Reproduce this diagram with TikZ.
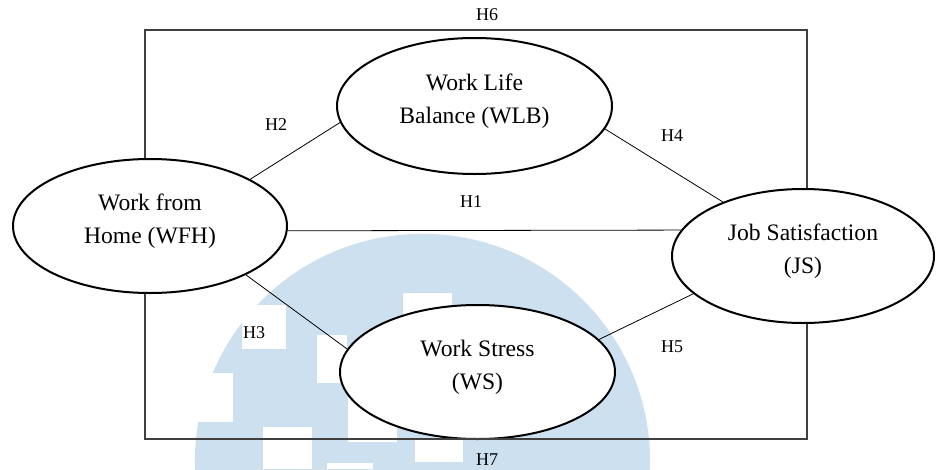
\documentclass[tikz,border=0pt]{standalone}
\usepackage{fontspec}
\setmainfont{Liberation Serif}
\usetikzlibrary{shapes.geometric}
\definecolor{logoblue}{RGB}{205,224,239}
\definecolor{framegray}{RGB}{64,64,64}
\tikzset{
  var/.style={ellipse, draw, line width=1.5pt, fill=white, inner sep=0pt,
    align=center, font=\fontsize{17.7}{24.7}\selectfont, text depth=11pt},
  hyp/.style={font=\fontsize{13.5}{16}\selectfont, inner sep=0pt},
  link/.style={line width=0.6pt},
  frame/.style={draw=framegray, line width=1pt},
}
\begin{document}
\begin{tikzpicture}[x=0.75pt,y=0.75pt]
\useasboundingbox (0,0) rectangle (938,469);
\fill[white] (0,0) rectangle (938,469);
% logo in the background
\begin{scope}
\clip (0,0) rectangle (938,469);
\fill[logoblue] (422.5,7.6) circle (227.6);
\end{scope}
\fill[white] (242,120) rectangle (286,164);
\fill[white] (180,47) rectangle (233,96);
\fill[white] (317,86) rectangle (347,134);
\fill[white] (403,139) rectangle (452,176);
\fill[white] (348,27) rectangle (397,86);
\fill[white] (263,0) rectangle (312,42);
\fill[white] (415,7) rectangle (463,29);
\fill[white] (327,0) rectangle (373,6);
% variables
\node[var, minimum width=205.5pt, minimum height=100.5pt] (WFH) at (150,243) {Work from\\Home (WFH)};
\node[var, minimum width=206.25pt, minimum height=102pt] (WLB) at (474.5,363) {Work Life\\Balance (WLB)};
\node[var, minimum width=196.5pt, minimum height=100.5pt] (JS) at (803,213) {Job Satisfaction\\(JS)};
\node[var, minimum width=206.25pt, minimum height=100.5pt] (WS) at (477.5,97) {Work Stress\\(WS)};
\coordinate (h6) at (475,439);
\coordinate (h7) at (475,30);
% hypotheses
\draw[link] (WFH.-2) -- (JS.168);
\draw[link] (WFH.25) -- (WLB.187);
\draw[link] (WFH.-27) -- (WS.170);
\draw[link] (WLB.-10) -- (JS.146);
\draw[link] (WS.15) -- (JS.199);
\draw[frame] ([xshift=-3.75pt]WFH.north) |- (h6) -| ([xshift=3pt]JS.north);
\draw[frame] ([xshift=-3.75pt]WFH.south) |- (h7) -| ([xshift=3pt]JS.south);
\node[hyp] (lh1) at (471,267) {H1};
\node[hyp] (lh2) at (276,344) {H2};
\node[hyp] (lh3) at (254,136) {H3};
\node[hyp] (lh4) at (672,333) {H4};
\node[hyp] (lh5) at (672,122) {H5};
\node[hyp] (lh6) at (487,454) {H6};
\node[hyp] (lh7) at (487,9) {H7};
\end{tikzpicture}
\end{document}
